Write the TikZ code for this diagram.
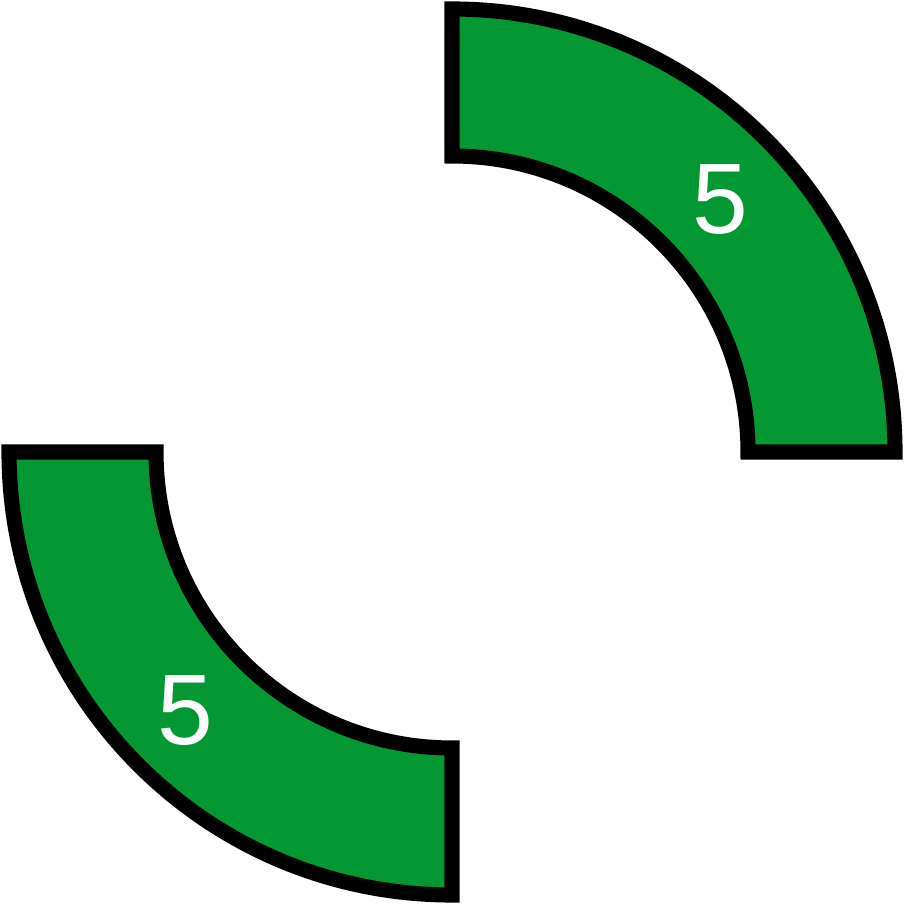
\documentclass[tikz,border=0pt]{standalone}
\usepackage{fontspec}
\setmainfont{Liberation Sans}
\usepackage{xcolor}
\usepackage{tikz}
\usetikzlibrary{calc}
\definecolor{bandgreen}{RGB}{3, 152, 52}

\begin{document}
\begin{tikzpicture}[
    band/.style={draw=black, line width=4.3pt, fill=bandgreen, line join=miter},
    num/.style={text=white, font=\fontsize{28.5}{31}\selectfont, inner sep=0pt}
]
\useasboundingbox (0,0) rectangle (9.04,9.04);

% centre of both quarter rings
\coordinate (c) at (4.52,4.52);

% Upper right quarter ring
\draw[band] ($(c)+(90:4.43)$) arc[start angle=90, end angle=0, radius=4.43]
    -- ($(c)+(0:2.96)$) arc[start angle=0, end angle=90, radius=2.96] -- cycle;

% Lower left quarter ring
\draw[band] ($(c)+(180:4.43)$) arc[start angle=180, end angle=270, radius=4.43]
    -- ($(c)+(270:2.96)$) arc[start angle=270, end angle=180, radius=2.96] -- cycle;

% Labels
\node[num] (upper) at (7.20,7.04) {5};
\node[num] (lower) at (1.85,1.93) {5};

\end{tikzpicture}
\end{document}
